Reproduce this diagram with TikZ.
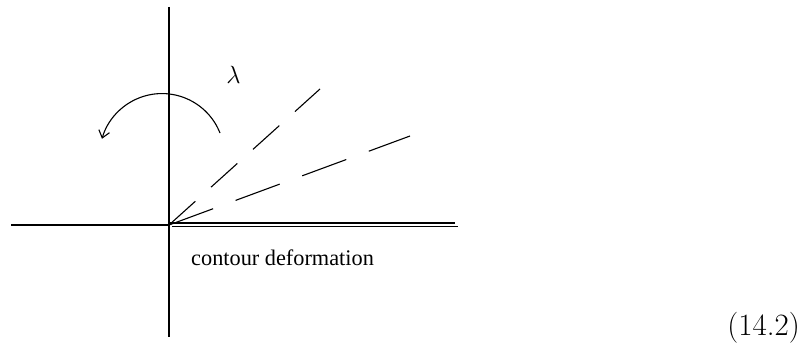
\documentclass[tikz,border=0pt]{standalone}
\usepackage{fontspec}
\newfontfamily\serifrm{Liberation Serif}
\usetikzlibrary{arrows.meta}

\begin{document}
\begin{tikzpicture}[
      x=1pt, y=-1pt,
      axis/.style={line width=1.1pt},
      ray/.style={line width=1.1pt},
      arr/.style={-{Straight Barb[length=7pt, width=11pt]}, line width=1.1pt}
    ]
    \useasboundingbox (0,0) rectangle (801,345);
    % axes
    \coordinate (o) at (169,225);
    \coordinate (top) at (169,7);
    \coordinate (bot) at (169,337);
    \coordinate (left) at (11,225);
    \draw[axis] (top) -- (bot);
    \draw[axis] (left) -- (o);
    % cut along the positive real axis
    \coordinate (cuta) at (170,223);
    \coordinate (cutb) at (455,223);
    \coordinate (cutc) at (172,226.7);
    \coordinate (cutd) at (458,226.7);
    \draw[line width=2.6pt] (cuta) -- (cutb);
    \draw[line width=1.1pt] (cutc) -- (cutd);
    % rotated rays
    \coordinate (rayup) at (320,89);
    \coordinate (raylow) at (410,136);
    \draw[ray, dash pattern=on 35.5pt off 21pt] (o) -- (rayup);
    \draw[ray, dash pattern=on 47pt off 24pt] (o) -- (raylow);
    % rotation arrow
    \coordinate (arcstart) at (220,133);
    \draw[arr] (arcstart) arc[start angle=-21.6, end angle=-164, radius=62.4];
    % labels
    \node[inner sep=0pt, font=\fontsize{30}{34}\selectfont] (lam) at (233.5,75) {$\lambda$};
    \node[inner sep=0pt, anchor=base west, font=\serifrm\fontsize{22.3}{26}\selectfont]
      (label) at (191,265) {contour deformation};
    \node[inner sep=0pt, anchor=base east, font=\fontsize{31}{36}\selectfont]
      (eqno) at (800,335) {(14.2)};
\end{tikzpicture}
\end{document}
